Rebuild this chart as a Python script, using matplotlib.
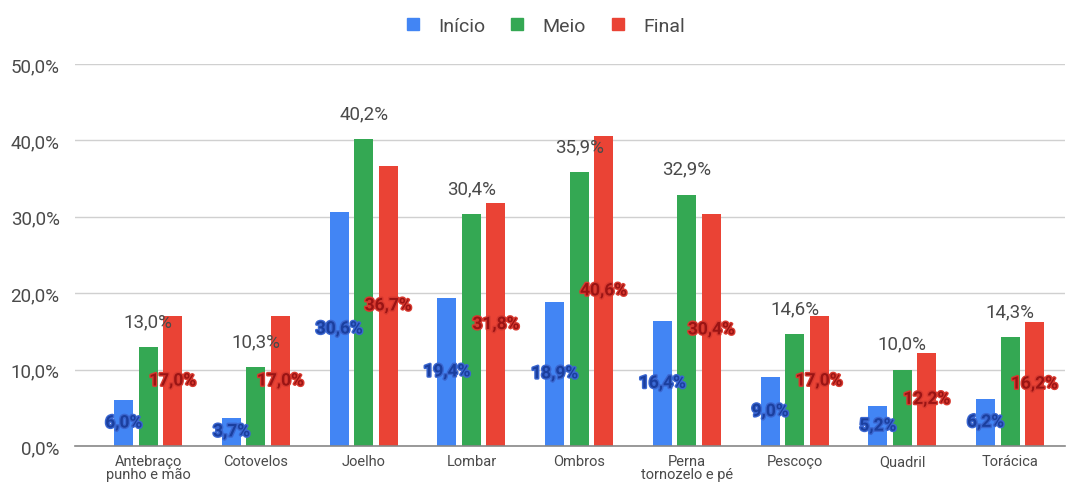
import matplotlib
matplotlib.use("Agg")
import matplotlib.pyplot as plt
import matplotlib.patheffects as pe
from matplotlib.patches import Patch
import numpy as np

plt.rcParams['font.family'] = ['Roboto', 'DejaVu Sans']

categories = ["Antebraço\npunho e mão", "Cotovelos", "Joelho", "Lombar", "Ombros",
              "Perna\ntornozelo e pé", "Pescoço", "Quadril", "Torácica"]
inicio = [6.0, 3.7, 30.6, 19.4, 18.9, 16.4, 9.0, 5.2, 6.2]
meio = [13.0, 10.3, 40.2, 30.4, 35.9, 32.9, 14.6, 10.0, 14.3]
final = [17.0, 17.0, 36.7, 31.8, 40.6, 30.4, 17.0, 12.2, 16.2]
series_names = ["Início", "Meio", "Final"]
yticks = [0, 10, 20, 30, 40, 50]

c_blue, c_green, c_red = "#4285F4", "#34A853", "#EA4335"

fig = plt.figure(figsize=(10.69, 4.85), dpi=100)
ax = fig.add_axes([75/1069, 38/485, 990/1069, 382/485])

x = np.arange(len(categories))
w = 0.176
step = 0.227
ax.bar(x - step, inicio, w, color=c_blue, zorder=3)
ax.bar(x, meio, w, color=c_green, zorder=3)
ax.bar(x + step, final, w, color=c_red, zorder=3)

def fmt(v):
    return f"{v:.1f}".replace(".", ",") + "%"

for xi, v in zip(x - step, inicio):
    ax.text(xi, v / 2, fmt(v), ha="center", va="center", fontsize=12.5, fontweight="bold",
            color="#1b3f9e", zorder=5,
            path_effects=[pe.withStroke(linewidth=2.0, foreground="#3a66d0")])
for xi, v in zip(x, meio):
    ax.text(xi, v + 2.2, fmt(v), ha="center", va="bottom", fontsize=13.5,
            color="#4a4a4a", zorder=5)
for xi, v in zip(x + step, final):
    ax.text(xi, v / 2, fmt(v), ha="center", va="center", fontsize=12.5, fontweight="bold",
            color="#9a1414", zorder=5,
            path_effects=[pe.withStroke(linewidth=2.0, foreground="#d83a30")])

ax.set_ylim(0, 50)
ax.set_xlim(-0.68, 8.51)
ax.set_yticks(yticks)
ax.set_yticklabels([fmt(t) for t in yticks], fontsize=13.5, color="#4a4a4a")
ax.set_xticks(x)
ax.set_xticklabels(categories, fontsize=10.5, color="#4a4a4a", linespacing=0.85)
ax.tick_params(axis="both", length=0)
ax.tick_params(axis="y", pad=11)
ax.tick_params(axis="x", pad=6)
ax.grid(axis="y", color="#d0d0d0", linewidth=1.0, zorder=0)
for s in ["top", "right", "left"]:
    ax.spines[s].set_visible(False)
ax.spines["bottom"].set_color("#888888")
ax.spines["bottom"].set_linewidth(1.2)
ax.spines["bottom"].set_zorder(4)

handles = [Patch(facecolor=c, edgecolor=c) for c in (c_blue, c_green, c_red)]
fig.legend(handles, series_names, loc="center", bbox_to_anchor=(546/1069, 1 - 27/485),
           ncol=3, frameon=False, fontsize=14, handlelength=0.6, handleheight=0.6,
           handletextpad=1.0, columnspacing=1.35, labelcolor="#4a4a4a")

fig.savefig("out.png", dpi=100, facecolor="white")
